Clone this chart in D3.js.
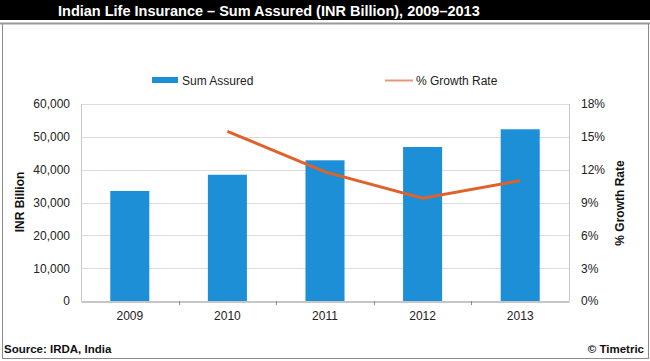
<!DOCTYPE html>
<html>
<head>
<meta charset="utf-8">
<script src="https://cdn.jsdelivr.net/npm/d3@7"></script>
<style>
  body { margin: 0; background: #fff; }
  svg { display: block; font-family: Arial, "Liberation Sans", sans-serif; }
</style>
</head>
<body>
<svg id="chart" width="650" height="361"></svg>
<script>
const years = ["2009", "2010", "2011", "2012", "2013"];
const sumAssured = [33500, 38450, 42850, 46900, 52300];
const growthYears = ["2010", "2011", "2012", "2013"];
const growthRate = [15.5, 11.8, 9.4, 11.0];
const leftTicks = [0, 10000, 20000, 30000, 40000, 50000, 60000];
const rightTicks = [0, 3, 6, 9, 12, 15, 18];

const svg = d3.select("#chart");
const W = 650, H = 361;
const margin = { top: 104, right: 81, bottom: 60, left: 81 };
const barColor = "#1C8FD6";
const lineColor = "#E0622B";

// frame + title bar
svg.append("rect").attr("x", 0).attr("y", 0).attr("width", W).attr("height", 20).attr("fill", "#000");
svg.append("rect").attr("x", 2.5).attr("y", 23.5).attr("width", 646).attr("height", 335)
  .attr("fill", "none").attr("stroke", "#8a8a8a").attr("stroke-width", 1);
svg.append("line").attr("x1", 0).attr("x2", W).attr("y1", 23.5).attr("y2", 23.5)
  .attr("stroke", "#9a9a9a").attr("stroke-width", 2);
svg.append("text").attr("x", 58).attr("y", 15.5).attr("fill", "#fff")
  .attr("font-size", 14.5).attr("font-weight", "bold")
  .text("Indian Life Insurance \u2013 Sum Assured (INR Billion), 2009\u20132013");

const x = d3.scaleBand().domain(years).range([margin.left, W - 81]).paddingInner(0).paddingOuter(0);
const y = d3.scaleLinear().domain([0, 60000]).range([301, margin.top]);
const y2 = d3.scaleLinear().domain([0, 18]).range([301, margin.top]);

// gridlines
svg.append("g").selectAll("line").data(leftTicks.slice(1)).enter().append("line")
  .attr("x1", x.range()[0]).attr("x2", x.range()[1])
  .attr("y1", d => Math.round(y(d)) + 0.5).attr("y2", d => Math.round(y(d)) + 0.5)
  .attr("stroke", "#dcdcdc").attr("stroke-width", 1);

// side axis lines
svg.append("line").attr("x1", 81.5).attr("x2", 81.5).attr("y1", margin.top).attr("y2", 301)
  .attr("stroke", "#c8c8c8");
svg.append("line").attr("x1", 569.5).attr("x2", 569.5).attr("y1", margin.top).attr("y2", 301)
  .attr("stroke", "#c8c8c8");

// bars
const barW = x.bandwidth() * 0.4;
svg.append("g").selectAll("rect").data(years).enter().append("rect")
  .attr("x", (d) => x(d) + (x.bandwidth() - barW) / 2)
  .attr("y", (d, i) => y(sumAssured[i]))
  .attr("width", barW)
  .attr("height", (d, i) => y(0) - y(sumAssured[i]))
  .attr("fill", barColor);

// x axis
const xAxis = svg.append("g").attr("transform", "translate(0,301.5)")
  .call(d3.axisBottom(x).tickSize(0).tickPadding(10));
xAxis.select(".domain").attr("stroke", "#8c8c8c");
xAxis.selectAll("text").attr("font-size", 12).attr("fill", "#222").attr("font-family", "Arial, 'Liberation Sans', sans-serif");
svg.append("g").selectAll("line").data(years.slice(1)).enter().append("line")
  .attr("x1", d => Math.round(x(d)) + 0.5).attr("x2", d => Math.round(x(d)) + 0.5)
  .attr("y1", 301).attr("y2", 305).attr("stroke", "#8c8c8c");

// left axis
const yAxis = svg.append("g").attr("transform", "translate(70,0)")
  .call(d3.axisLeft(y).tickValues(leftTicks).tickSize(0).tickPadding(0)
    .tickFormat(d3.format(",")));
yAxis.select(".domain").remove();
yAxis.selectAll("text").attr("font-size", 12).attr("fill", "#222").attr("font-family", "Arial, 'Liberation Sans', sans-serif");

// right axis
const y2Axis = svg.append("g").attr("transform", "translate(581,0)")
  .call(d3.axisRight(y2).tickValues(rightTicks).tickSize(0).tickPadding(0)
    .tickFormat(d => d + "%"));
y2Axis.select(".domain").remove();
y2Axis.selectAll("text").attr("font-size", 12).attr("fill", "#222").attr("font-family", "Arial, 'Liberation Sans', sans-serif");

// axis titles
svg.append("text").attr("transform", "translate(24,202) rotate(-90)")
  .attr("text-anchor", "middle").attr("font-size", 12).attr("font-weight", "bold").attr("fill", "#111")
  .text("INR Billion");
svg.append("text").attr("transform", "translate(624,203) rotate(-90)")
  .attr("text-anchor", "middle").attr("font-size", 12).attr("font-weight", "bold").attr("fill", "#111")
  .text("% Growth Rate");

// growth line
const line = d3.line()
  .x((d, i) => x(growthYears[i]) + x.bandwidth() / 2)
  .y(d => y2(d));
svg.append("path").datum(growthRate).attr("d", line)
  .attr("fill", "none").attr("stroke", lineColor).attr("stroke-width", 3);

// legend
svg.append("rect").attr("x", 152).attr("y", 77).attr("width", 26).attr("height", 6).attr("fill", barColor);
svg.append("text").attr("x", 182).attr("y", 84.5).attr("font-size", 12).attr("fill", "#222").text("Sum Assured");
svg.append("line").attr("x1", 385).attr("x2", 413).attr("y1", 80.5).attr("y2", 80.5)
  .attr("stroke", "#E8977A").attr("stroke-width", 2);
svg.append("text").attr("x", 416).attr("y", 84.5).attr("font-size", 12).attr("fill", "#222").text("% Growth Rate");

// footer
svg.append("text").attr("x", 4).attr("y", 353).attr("font-size", 11.5).attr("font-weight", "bold")
  .attr("fill", "#111").text("Source: IRDA, India");
svg.append("text").attr("x", 644).attr("y", 353).attr("text-anchor", "end").attr("font-size", 11.5)
  .attr("font-weight", "bold").attr("fill", "#111").text("\u00A9 Timetric");
</script>
</body>
</html>
